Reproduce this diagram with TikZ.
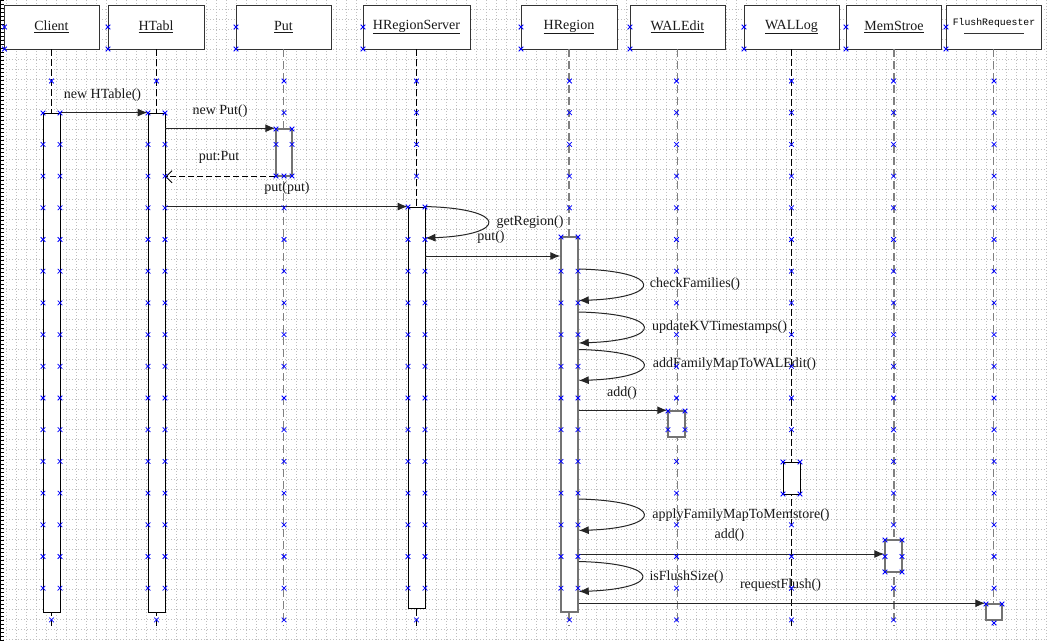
\documentclass[tikz,border=0pt]{standalone}
\usepackage{fontspec}
\setmainfont{Liberation Serif}
\setmonofont{Liberation Mono}
\usetikzlibrary{arrows.meta,calc}
\newcommand\bxm[2]{\draw[xm] (#1-2.3,#2-2.3) -- (#1+2.3,#2+2.3) (#1-2.3,#2+2.3) -- (#1+2.3,#2-2.3);}
\newcommand\lifemarks[4]{%
  \foreach \k in {0,...,17}{%
    \pgfmathsetmacro\myy{81+31.7*\k}%
    \pgfmathtruncatemacro\mkin{and(\myy>#3+4,\myy<#4-4)}%
    \pgfmathtruncatemacro\mknear{and(\myy>=#3-4,\myy<=#4+4)}%
    \ifnum\mkin=1 \bxm{#1-#2}{\myy}\bxm{#1+#2}{\myy}\else
      \ifnum\mknear=0 \bxm{#1}{\myy}\fi\fi
  }%
  \bxm{#1-#2}{#3}\bxm{#1+#2}{#3}%
}
\begin{document}
\begin{tikzpicture}[x=1pt,y=-1pt,
 head/.style={draw=black!80, line width=0.9pt, fill=white, minimum height=44pt, inner sep=0pt, font=\fontsize{14}{16}\selectfont, text=black!90},
 actB/.style={draw=black, line width=0.9pt, fill=white, minimum width=17pt, inner sep=0pt},
 actG/.style={draw=black!55, line width=1.5pt, fill=white, minimum width=17pt, inner sep=0pt},
 lifeB/.style={draw=black, line width=0.8pt, dash pattern=on 7pt off 3pt},
 lifeG/.style={draw=black!50, line width=1.8pt, dash pattern=on 8pt off 4pt},
 msg/.style={draw=black!85, line width=1pt, -{Latex[length=10pt,width=8pt]}},
 ret/.style={draw=black, line width=0.9pt, dash pattern=on 6pt off 3pt, -{Straight Barb[length=6pt,width=12pt]}},
 lbl/.style={font=\fontsize{14}{16}\selectfont, text=black!90, inner sep=0pt},
 xm/.style={draw=blue, line width=0.75pt},
 bggrid/.style={draw=black!25, line width=0.55pt, dash pattern=on 1.2pt off 1.8pt}]
\useasboundingbox (0,0) rectangle (1047,641);
\fill[white] (0,0) rectangle (1047,641);
% background grid
\foreach \k in {0,...,104} \draw[bggrid] (6.7+10*\k,0) -- (6.7+10*\k,641);
\foreach \k in {0,...,63} \draw[bggrid] (0,9.3+10*\k) -- (1047,9.3+10*\k);
% left ruler
\draw[black, line width=1pt] (0.5,0) -- (0.5,641);
\foreach \k in {0,...,160} \draw[black, line width=0.7pt] (0,4*\k) -- (3.5,4*\k);

% heads
\node[head, minimum width=95pt] (hC) at (51.5,27) {\underline{Client}};
\node[head, minimum width=96pt] (hH) at (156,27) {\underline{HTabl}};
\node[head, minimum width=95pt] (hP) at (283.5,27) {\underline{Put}};
\node[head, minimum width=107pt] (hS) at (416.5,27) {\underline{HRegionServer}};
\node[head, minimum width=96pt] (hR) at (569,27) {\underline{HRegion}};
\node[head, minimum width=95pt] (hW) at (677.5,27) {\underline{WALEdit}};
\node[head, minimum width=95pt] (hL) at (791.5,27) {\underline{WALLog}};
\node[head, minimum width=95pt] (hM) at (894,27) {\underline{MemStroe}};
\node[head, minimum width=95pt] (hF) at (993.5,27) {};
\node[font=\ttfamily\fontsize{9.8}{11}\selectfont, inner sep=0pt] (tF) at (994,22.5) {FlushRequester};
\draw[black!80, line width=0.8pt] ($(hF.center)+(-29.5,6.3)$) -- ($(hF.center)+(30,6.3)$);

% lifelines
\draw[lifeB] (hC.south) -- (hC.south |- 0,626) coordinate (eC);
\draw[lifeB] (hH.south) -- (hH.south |- 0,626) coordinate (eH);
\draw[lifeG] (hP.south) -- (hP.south |- 0,626) coordinate (eP);
\draw[lifeB] (hS.south) -- (hS.south |- 0,626) coordinate (eS);
\draw[lifeG] (hR.south) -- (hR.south |- 0,626) coordinate (eR);
\draw[lifeG] (hW.south) -- (hW.south |- 0,626) coordinate (eW);
\draw[lifeB] (hL.south) -- (hL.south |- 0,626) coordinate (eL);
\draw[lifeG] (hM.south) -- (hM.south |- 0,626) coordinate (eM);
\draw[lifeG] (hF.south) -- (hF.south |- 0,626) coordinate (eF);

% activations
\node[actB, minimum height=499pt] (aC) at (51.5,362.5) {};
\node[actB, minimum height=499pt] (aH) at (156.5,362.5) {};
\node[actG, minimum height=47pt, minimum width=16pt] (aP) at (284,152.5) {};
\node[actB, minimum height=401pt] (aS) at (416.5,407.5) {};
\node[actG, minimum height=375pt] (aR) at (569.5,424.5) {};
\node[actG, minimum height=26pt] (aW) at (676.5,424) {};
\node[actB, minimum height=32pt] (aL) at (791.5,478) {};
\node[actG, minimum height=32pt] (aM) at (893.5,556) {};
\node[actG, minimum height=16pt, minimum width=16pt] (aF) at (994,612) {};

% messages
\draw[msg] (aC.north east) -- (aC.north east -| aH.west);
\node[lbl] (l1) at (102.5,95.5) {new HTable()};
\draw[msg] (aH.east |- aP.north) -- (aP.north west);
\node[lbl] (l2) at (220,111.5) {new Put()};
\draw[ret] (aP.south west) -- (aP.south west -| aH.east);
\node[lbl] (l3) at (219,157.5) {put:Put};
\draw[msg] (aH.east |- aS.north) -- (aS.north west);
\node[lbl] (l4) at (287,188.5) {put(put)};
\draw[msg] (aS.north east) .. controls +(83,2) and +(83,-3) .. (aS.east |- 0,238);
\node[lbl] (l5) at (530,222.5) {getRegion()};
\draw[msg] (aS.east |- 0,256) -- (aR.west |- 0,256);
\node[lbl] (l6) at (491,237.5) {put()};
\draw[msg] (aR.east |- 0,269) .. controls +(85,2) and +(85,-3) .. (aR.east |- 0,300.5);
\node[lbl] (l7) at (695,284.5) {checkFamilies()};
\draw[msg] (aR.east |- 0,312) .. controls +(86,2) and +(86,-3) .. (aR.east |- 0,343);
\node[lbl] (l8) at (719.5,327) {updateKVTimestamps()};
\draw[msg] (aR.east |- 0,349.5) .. controls +(86,2) and +(86,-3) .. (aR.east |- 0,380.5);
\node[lbl] (l9) at (734.5,364) {addFamilyMapToWALEdit()};
\draw[msg] (aR.east |- aW.north) -- (aW.north west);
\node[lbl] (l10) at (622,393) {add()};
\draw[msg] (aR.east |- 0,499) .. controls +(86,2) and +(86,-3) .. (aR.east |- 0,530.5);
\node[lbl] (l11) at (741,515) {applyFamilyMapToMemstore()};
\draw[msg] (aR.east |- 0,554) -- (aM.west |- 0,554);
\node[lbl] (l12) at (729.5,535.5) {add()};
\draw[msg] (aR.east |- 0,561.5) .. controls +(84,2) and +(84,-3) .. (aR.east |- 0,591.5);
\node[lbl] (l13) at (686.5,577.5) {isFlushSize()};
\draw[msg] (aR.east |- aF.north) -- (aF.north west);
\node[lbl] (l14) at (780.5,585.5) {requestFlush()};

% blue connection markers
\foreach \hx in {4.5,108,236,363,521,630,744,846,946} {\bxm{\hx}{27}\bxm{\hx}{49}}
\lifemarks{51.5}{8.5}{113}{612}
\lifemarks{156.5}{8.5}{113}{612}
\lifemarks{284}{8}{129}{176}
\bxm{276}{176}\bxm{284}{176}\bxm{292}{176}
\lifemarks{416.5}{8.5}{207}{608}
\lifemarks{569.5}{8.5}{237}{612}
\lifemarks{676.5}{8.5}{411}{437}
\lifemarks{791.5}{8.5}{462}{494}
\bxm{783}{494}\bxm{800}{494}
\lifemarks{893.5}{8.5}{540}{572}
\bxm{885}{572}\bxm{902}{572}
\lifemarks{994}{8}{604}{620}
\bxm{994}{623}
\end{tikzpicture}
\end{document}
